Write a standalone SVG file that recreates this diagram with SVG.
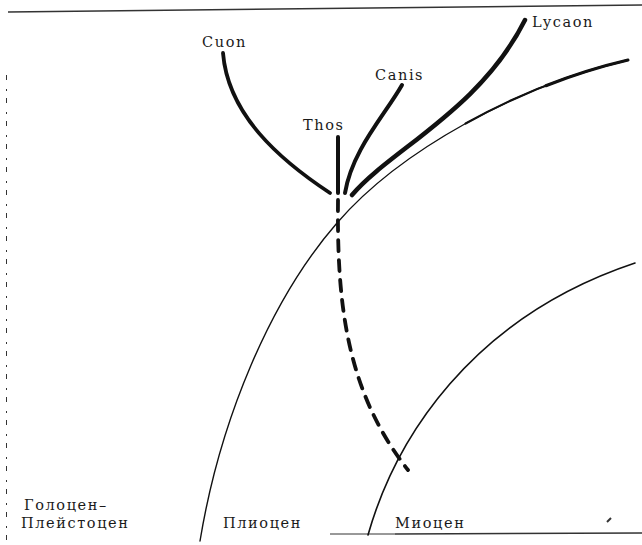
<svg xmlns="http://www.w3.org/2000/svg" width="642" height="545" viewBox="0 0 642 545">
<style>
.lab{font-family:'DejaVu Serif',serif;fill:#1a1a1a;font-size:14.5px;letter-spacing:1.6px}
.br{fill:none;stroke:#111;stroke-linecap:round}
.bd{fill:none;stroke:#111;stroke-linecap:round}
.frame{fill:none;stroke:#333}
</style>
<rect width="642" height="545" fill="#fff"/>
<g id="frame">
<path class="frame" d="M8,12 L642,5" stroke-width="1.4"/>
<path class="frame" d="M6.5,75 L6.5,540" stroke="#aaa" stroke-width="1" stroke-dasharray="5 9 2 7"/>
<path class="frame" d="M330,534 L395,534" stroke="#bbb" stroke-width="1"/>
<path class="frame" d="M395,534 L642,533" stroke-width="1.6"/>
<path class="frame" d="M607,522 L611,518" stroke="#222" stroke-width="2"/>
</g>
<g id="connectors">
<path id="boundary1" class="bd" d="M200,541 C220,420 270,300 337,223 C400,150 520,85 628,60" stroke-width="1.4"/>
<path class="bd" d="M465.6,123.5 C517,95 574,72.5 628,60" stroke-width="2.2"/>
<path class="bd" d="M545.8,85.75 C573.25,75 601,66.25 628,60" stroke-width="3"/>
<path id="boundary2" class="bd" d="M368,535 C395,440 470,318 635,263" stroke-width="1.6"/>
<path id="thos-stem" class="br" d="M338,200 C337,300 345,390 408,470" stroke-width="3.8" stroke-dasharray="11 9" stroke-linecap="butt"/>
<path id="cuon-branch" class="br" d="M223,53 C228,115 280,160 330,193" stroke-width="3.8"/>
<path id="thos-branch" class="br" d="M338,137 L338,193" stroke-width="4" stroke-linecap="butt"/>
<path id="canis-branch" class="br" d="M402,85 C385,115 352,150 345,193" stroke-width="4"/>
<path id="lycaon-branch" class="br" d="M352,195 C390,150 480,110 525,20" stroke-width="4.5"/>
</g>
<g id="cuon"><text class="lab" x="202" y="47">Cuon</text></g>
<g id="thos"><text class="lab" x="303" y="130">Thos</text></g>
<g id="canis"><text class="lab" x="375" y="80">Canis</text></g>
<g id="lycaon"><text class="lab" x="532" y="27">Lycaon</text></g>
<g id="holocene"><text class="lab" x="24" y="510">Голоцен–</text><text class="lab" x="21" y="528">Плейстоцен</text></g>
<g id="pliocene"><text class="lab" x="223" y="528">Плиоцен</text></g>
<g id="miocene"><text class="lab" x="395" y="528">Миоцен</text></g>
</svg>
